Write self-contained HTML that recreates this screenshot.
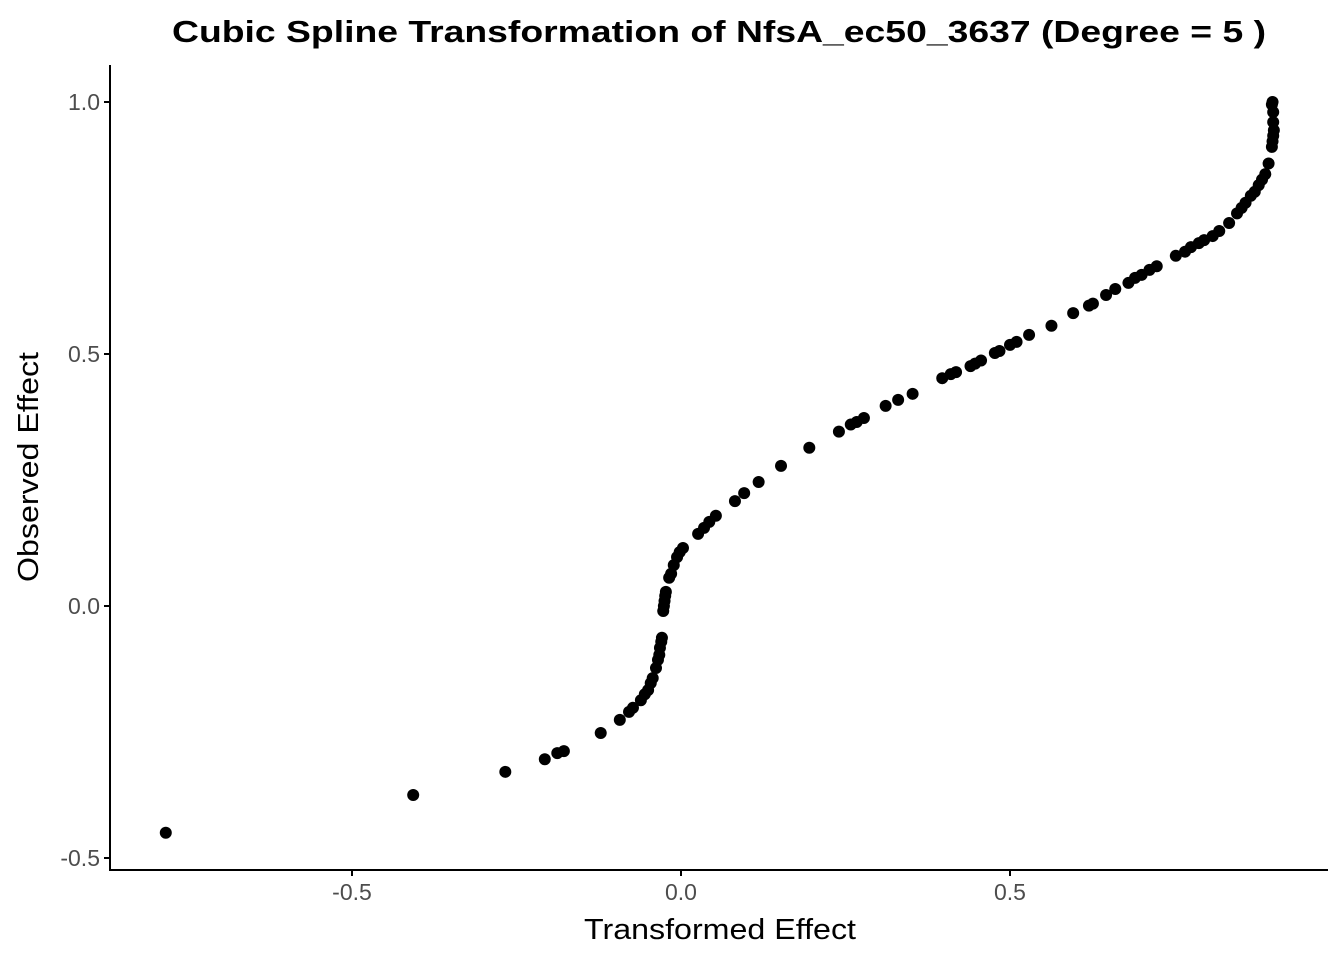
<!DOCTYPE html>
<html><head><meta charset="utf-8"><style>
html,body{margin:0;padding:0;background:#fff;}
svg{display:block;font-family:"Liberation Sans",Arial,sans-serif;}
</style></head><body>
<svg id="chart" width="1344" height="960" viewBox="0 0 1344 960">
<text x="719" y="42" text-anchor="middle" font-size="31" font-weight="bold" fill="#000" textLength="1094" lengthAdjust="spacingAndGlyphs">Cubic Spline Transformation of NfsA_ec50_3637 (Degree = 5 )</text>
<g id="points"></g>
<g id="axes"></g>
<text x="720" y="939" text-anchor="middle" font-size="29" fill="#000" textLength="272" lengthAdjust="spacingAndGlyphs">Transformed Effect</text>
<text transform="translate(38,467) rotate(-90)" text-anchor="middle" font-size="29" fill="#000" textLength="230" lengthAdjust="spacingAndGlyphs">Observed Effect</text>
</svg>
<script>
const xTicks = [-0.5, 0.0, 0.5];
const xTickLabels = ["-0.5", "0.0", "0.5"];
const yTicks = [-0.5, 0.0, 0.5, 1.0];
const yTickLabels = ["-0.5", "0.0", "0.5", "1.0"];
const xValues = [-0.783,-0.407,-0.267,-0.207,-0.188,-0.178,-0.122,-0.093,-0.079,-0.073,-0.061,-0.055,-0.050,-0.046,-0.043,-0.038,-0.035,-0.033,-0.032,-0.030,-0.029,-0.027,-0.026,-0.025,-0.024,-0.023,-0.018,-0.015,-0.011,-0.006,-0.002,0.003,0.026,0.035,0.043,0.053,0.082,0.096,0.118,0.152,0.195,0.240,0.258,0.267,0.278,0.311,0.330,0.352,0.397,0.410,0.418,0.440,0.447,0.456,0.477,0.484,0.500,0.510,0.529,0.563,0.596,0.620,0.626,0.646,0.660,0.680,0.690,0.700,0.712,0.723,0.752,0.766,0.775,0.787,0.795,0.808,0.818,0.833,0.845,0.852,0.858,0.866,0.872,0.878,0.883,0.888,0.893,0.898,0.899,0.900,0.901,0.900,0.900,0.899,0.898];
const yValues = [-0.450,-0.375,-0.329,-0.304,-0.292,-0.288,-0.252,-0.226,-0.210,-0.202,-0.187,-0.175,-0.167,-0.153,-0.143,-0.123,-0.107,-0.097,-0.083,-0.071,-0.063,-0.010,0.000,0.010,0.020,0.028,0.056,0.064,0.081,0.097,0.107,0.115,0.143,0.155,0.167,0.179,0.208,0.224,0.246,0.278,0.314,0.346,0.360,0.365,0.373,0.397,0.409,0.421,0.452,0.460,0.464,0.476,0.481,0.487,0.502,0.506,0.518,0.524,0.538,0.556,0.581,0.596,0.600,0.617,0.629,0.641,0.651,0.657,0.667,0.674,0.695,0.703,0.712,0.720,0.726,0.734,0.744,0.760,0.779,0.790,0.800,0.814,0.822,0.835,0.846,0.857,0.878,0.911,0.922,0.933,0.944,0.960,0.980,1.000,0.995];

const NS = "http://www.w3.org/2000/svg";
const xScale = v => 681 + v * 658;
const yScale = v => 606 - v * 504;
const L = 110, R = 1328, T = 65, B = 870;

const pts = document.getElementById('points');
for (let i = 0; i < xValues.length; i++) {
  const c = document.createElementNS(NS, 'circle');
  c.setAttribute('cx', xScale(xValues[i]));
  c.setAttribute('cy', yScale(yValues[i]));
  c.setAttribute('r', 6);
  c.setAttribute('fill', '#000');
  
  
  pts.appendChild(c);
}

const ax = document.getElementById('axes');
function line(x1, y1, x2, y2, name) {
  const l = document.createElementNS(NS, 'line');
  l.setAttribute('x1', x1); l.setAttribute('y1', y1);
  l.setAttribute('x2', x2); l.setAttribute('y2', y2);
  l.setAttribute('stroke', '#000'); l.setAttribute('stroke-width', 2);
  
  
  ax.appendChild(l);
}
function text(x, y, s, anchor, name) {
  const t = document.createElementNS(NS, 'text');
  t.setAttribute('x', x); t.setAttribute('y', y);
  t.setAttribute('text-anchor', anchor);
  t.setAttribute('font-size', 23);
  t.setAttribute('fill', '#4d4d4d');
  t.textContent = s;
  
  
  ax.appendChild(t);
}
line(L, T, L, B + 1, 'y-axis-line');
line(L - 1, B, R, B, 'x-axis-line');
xTicks.forEach((v, i) => {
  const x = xScale(v);
  line(x, B, x, B + 6, 'x-tick');
  text(x, B + 30, xTickLabels[i], 'middle', 'x-tick-label');
});
yTicks.forEach((v, i) => {
  const y = yScale(v);
  line(L - 6, y, L, y, 'y-tick');
  text(L - 10, y + 8, yTickLabels[i], 'end', 'y-tick-label');
});
</script>
</body></html>
